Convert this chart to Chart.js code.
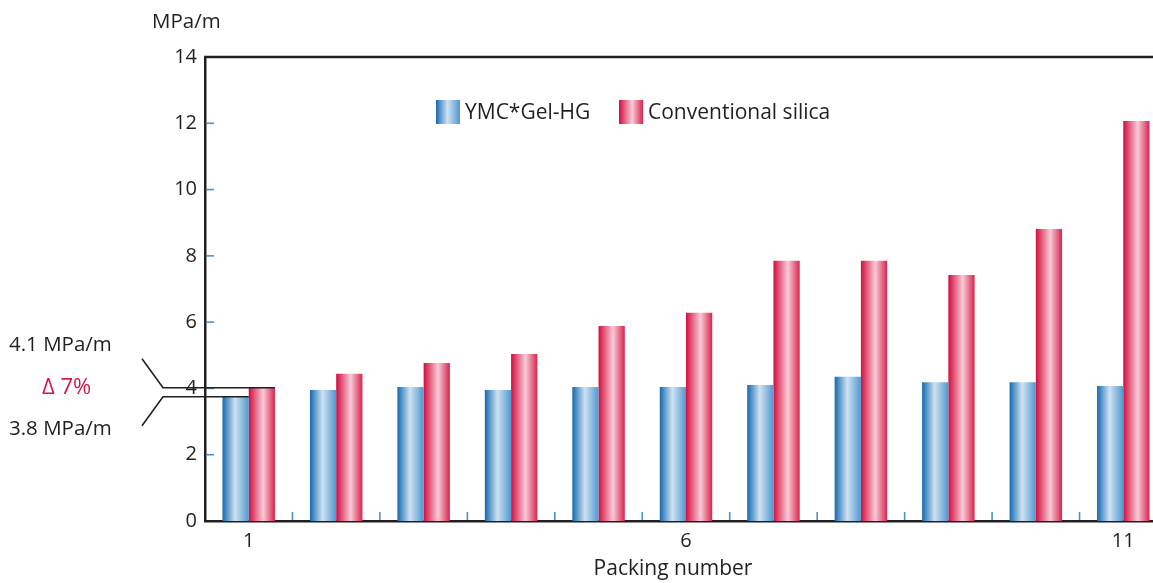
<!DOCTYPE html>
<html>
<head>
<meta charset="utf-8">
<script src="https://cdn.jsdelivr.net/npm/chart.js@4"></script>
<style>
  html, body { margin: 0; padding: 0; background: #fff; overflow: hidden; }
  #wrap { position: relative; width: 1167px; height: 583px; }
</style>
</head>
<body>
<div id="wrap"><canvas id="chart"></canvas></div>
<script>
// data
const categories = ['1', '2', '3', '4', '5', '6', '7', '8', '9', '10', '11'];
const ymcGel = [3.75, 3.95, 4.04, 3.95, 4.04, 4.04, 4.1, 4.35, 4.19, 4.19, 4.07];
const conventional = [4.02, 4.44, 4.77, 5.04, 5.88, 6.28, 7.85, 7.85, 7.42, 8.81, 12.07];
const yTicks = [0, 2, 4, 6, 8, 10, 12, 14];
const shownXLabels = ['1', '6', '11'];
const seriesNames = ['YMC*Gel-HG', 'Conventional silica'];

const CAT_PCT = 0.6;
const INK = '#231f20';
const TICK_BLUE = '#4a92cc';
const FONT = '"Open Sans", sans-serif';

const blueStops = [[0, '#1469b0'], [0.48, '#cfe2f2'], [1, '#4f97d0']];
const redStops = [[0, '#d40c3d'], [0.55, '#f8cbd7'], [1, '#d9244d']];

function makeGradient(c, left, width, stops) {
    const g = c.createLinearGradient(left, 0, left + width, 0);
    stops.forEach(([o, col]) => g.addColorStop(o, col));
    return g;
}

// gradient per bar, placed where the bar will be drawn
function barFill(stops) {
    return ctx => {
        const chart = ctx.chart;
        const xs = chart.scales.x;
        if (!chart.chartArea || !xs || ctx.dataIndex === undefined) return stops[0][1];
        const cat = xs.width / categories.length;
        const w = cat * CAT_PCT / 2;
        const left = xs.getPixelForValue(ctx.dataIndex) - cat * CAT_PCT / 2 + ctx.datasetIndex * w;
        return makeGradient(chart.ctx, left, w, stops);
    };
}

const decorations = {
    id: 'decorations',
    afterDraw(chart) {
        const c = chart.ctx;
        const area = chart.chartArea;
        const xs = chart.scales.x;
        const ys = chart.scales.y;
        c.save();

        // top frame line
        c.strokeStyle = INK;
        c.lineWidth = 2.5;
        c.beginPath();
        c.moveTo(area.left - 1, area.top);
        c.lineTo(area.right, area.top);
        c.stroke();

        // small blue ticks inside the frame
        c.strokeStyle = TICK_BLUE;
        c.lineWidth = 1.6;
        yTicks.slice(1, -1).forEach(v => {
            const y = ys.getPixelForValue(v);
            c.beginPath();
            c.moveTo(area.left + 1, y);
            c.lineTo(area.left + 9, y);
            c.stroke();
        });
        for (let i = 0; i < categories.length - 1; i++) {
            const x = (xs.getPixelForValue(i) + xs.getPixelForValue(i + 1)) / 2;
            c.beginPath();
            c.moveTo(x, area.bottom - 1);
            c.lineTo(x, area.bottom - 9);
            c.stroke();
        }

        // axis titles
        c.fillStyle = INK;
        c.font = '20.5px ' + FONT;
        c.textAlign = 'left';
        c.textBaseline = 'middle';
        c.fillText('MPa/m', 152, 22);
        c.textAlign = 'center';
        c.font = '21px ' + FONT;
        c.fillText('Packing number', 673, 569);
        c.textAlign = 'left';

        // legend inside the plot
        const lx = area.left + 231, ly = area.top + 43, box = 24;
        c.font = '21px ' + FONT;
        c.fillStyle = makeGradient(c, lx, box, blueStops);
        c.fillRect(lx, ly, box, box);
        c.fillStyle = INK;
        c.fillText(seriesNames[0], lx + 29, ly + box / 2 + 1);
        const lx2 = lx + 183;
        c.fillStyle = makeGradient(c, lx2, box, redStops);
        c.fillRect(lx2, ly, box, box);
        c.fillStyle = INK;
        c.fillText(seriesNames[1], lx2 + 29, ly + box / 2 + 1);

        // difference callout on the first pair
        const blueBar = chart.getDatasetMeta(0).data[0];
        const redBar = chart.getDatasetMeta(1).data[0];
        const yHi = ys.getPixelForValue(conventional[0]);
        const yLo = ys.getPixelForValue(ymcGel[0]);
        c.strokeStyle = INK;
        c.lineWidth = 1.6;
        c.beginPath();
        c.moveTo(142, yHi - 29);
        c.lineTo(163, yHi);
        c.lineTo(redBar.x + redBar.width / 2, yHi);
        c.stroke();
        c.beginPath();
        c.moveTo(142, yLo + 29);
        c.lineTo(163, yLo);
        c.lineTo(blueBar.x + blueBar.width / 2, yLo);
        c.stroke();

        c.font = '20.5px ' + FONT;
        c.fillStyle = INK;
        c.fillText('4.1 MPa/m', 9, 345);
        c.fillText('3.8 MPa/m', 9, 429);
        c.fillStyle = '#d6174a';
        c.font = '22px ' + FONT;
        c.fillText('\u0394 7%', 42, 388);
        c.restore();
    }
};

new Chart(document.getElementById('chart'), {
    type: 'bar',
    data: {
        labels: categories,
        datasets: [{
            label: seriesNames[0],
            data: ymcGel,
            backgroundColor: barFill(blueStops),
            borderWidth: 0
        }, {
            label: seriesNames[1],
            data: conventional,
            backgroundColor: barFill(redStops),
            borderWidth: 0
        }]
    },
    options: {
        responsive: true,
        maintainAspectRatio: false,
        animation: false,
        categoryPercentage: CAT_PCT,
        barPercentage: 1.0,
        layout: { padding: { top: 57, left: 0, right: 0, bottom: 0 } },
        plugins: {
            legend: { display: false },
            tooltip: { enabled: false }
        },
        scales: {
            x: {
                grid: { display: false, drawTicks: false },
                border: { display: true, color: INK, width: 2.5 },
                ticks: {
                    autoSkip: false,
                    maxRotation: 0,
                    padding: 8,
                    color: INK,
                    font: { family: FONT, size: 20 },
                    callback: (v, i) => shownXLabels.includes(categories[i]) ? categories[i] : ''
                },
                afterFit: s => { s.height = 62; }
            },
            y: {
                min: 0,
                max: 14,
                grid: { display: false, drawTicks: false },
                border: { display: true, color: INK, width: 2.5 },
                afterBuildTicks: s => { s.ticks = yTicks.map(v => ({ value: v })); },
                ticks: {
                    padding: 8,
                    color: INK,
                    font: { family: FONT, size: 20 }
                },
                afterFit: s => { s.width = 205; }
            }
        }
    },
    plugins: [decorations]
});
</script>
</body>
</html>
